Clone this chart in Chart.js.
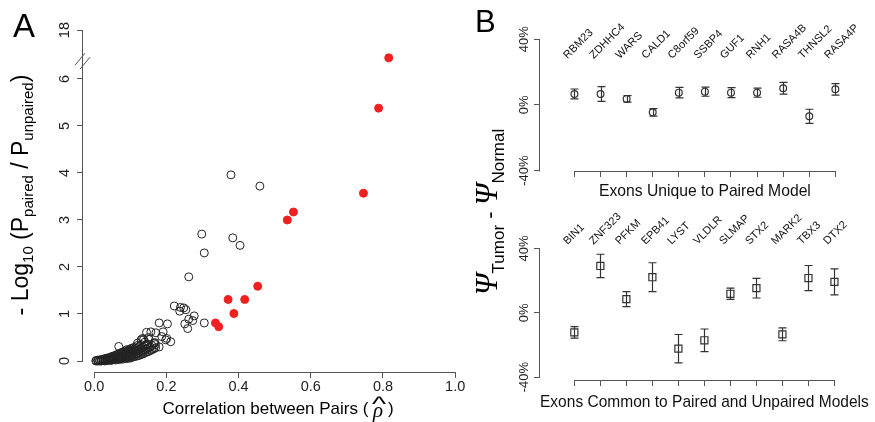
<!DOCTYPE html>
<html><head><meta charset="utf-8">
<script src="https://cdn.jsdelivr.net/npm/chart.js@4.4.0/dist/chart.umd.min.js"></script>
<style>
html,body{margin:0;padding:0;background:#fff;}
#wrap{position:relative;width:875px;height:422px;overflow:hidden;font-family:"Liberation Sans",Arial,sans-serif;color:#000;background:#fff;}
canvas{position:absolute;}
.lbl{position:absolute;white-space:nowrap;line-height:1;}
.ctr{position:absolute;white-space:nowrap;line-height:1;transform:translate(-50%,-50%);}
.rot{position:absolute;white-space:nowrap;line-height:1;transform:translate(-50%,-50%) rotate(-90deg);}
#tA sub{font-size:15px;vertical-align:-0.3em;}
#tB sub{font-size:17px;vertical-align:-0.45em;}
.psi{font-family:"Liberation Serif","DejaVu Serif",serif;font-style:italic;font-size:31px;}
.rho{position:relative;display:inline-block;font-family:"Liberation Serif","DejaVu Serif",serif;font-style:italic;font-size:21px;vertical-align:-0.12em;}
.hat{position:absolute;left:1px;top:-6px;font-family:"Liberation Sans",Arial,sans-serif;font-style:normal;font-size:20px;transform:scaleX(1.5);}
</style></head><body>
<div id="wrap">
  <canvas id="cA" style="left:0;top:0" width="470" height="422"></canvas>
  <canvas id="cB1" style="left:470px;top:0" width="405" height="210"></canvas>
  <canvas id="cB2" style="left:470px;top:210px" width="405" height="212"></canvas>
  <div class="lbl" style="left:13px;top:9px;font-size:33px">A</div>
  <div class="lbl" style="left:475px;top:6px;font-size:31px">B</div>
  <div class="rot" id="tA" style="left:22px;top:195px;font-size:23px">- Log<sub>10</sub> (P<sub>paired</sub> / P<sub>unpaired</sub>)</div>
  <div class="ctr" style="left:278px;top:410px;font-size:17px">Correlation between Pairs ( <span class="rho">ρ<span class="hat">^</span></span> )</div>
  <div class="rot" id="tB" style="left:489px;top:212px;font-size:22px"><span class="psi">Ψ</span><sub>Tumor</sub> - <span class="psi">Ψ</span><sub>Normal</sub></div>
</div>
<script>
// ---------------- Panel A data ----------------
const rhoTicks = [0, 0.2, 0.4, 0.6, 0.8, 1.0];
const logTicks = [0, 1, 2, 3, 4, 5, 6];
const logTickLabels = ['0', '1', '2', '3', '4', '5', '6', '18'];
const logBreakTick = 7.04;   // where the "18" tick sits above the axis break
// significant exons (red, filled)
const redPoints = [
  [0.816, 6.45], [0.788, 5.38], [0.746, 3.57], [0.535, 3.00], [0.552, 3.17],
  [0.371, 1.31], [0.417, 1.31], [0.387, 1.01], [0.453, 1.59], [0.336, 0.81], [0.345, 0.73]
];
// other exons (open circles)
const openPoints = [
  [0.379, 3.96], [0.459, 3.72], [0.298, 2.70], [0.384, 2.62], [0.404, 2.46], [0.305, 2.30], [0.262, 1.79],
  [0.222, 1.17], [0.239, 1.14], [0.248, 1.13], [0.254, 1.09], [0.237, 1.06], [0.277, 0.96], [0.262, 0.89],
  [0.273, 0.86], [0.251, 0.79], [0.259, 0.69], [0.305, 0.81], [0.180, 0.81], [0.203, 0.79], [0.068, 0.31],
  [0.145, 0.61], [0.157, 0.62], [0.191, 0.62], [0.171, 0.60], [0.187, 0.52], [0.201, 0.48], [0.212, 0.41],
  [0.198, 0.45], [0.150, 0.50], [0.134, 0.48], [0.137, 0.46], [0.152, 0.46], [0.148, 0.36], [0.168, 0.39],
  [0.166, 0.38], [0.120, 0.38], [0.130, 0.45],
  [0.005, 0.00], [0.005, 0.01], [0.01, 0.00], [0.01, 0.01], [0.01, 0.02], [0.015, 0.00], [0.015, 0.02],
  [0.02, 0.00], [0.02, 0.01], [0.02, 0.03], [0.025, 0.01], [0.025, 0.02], [0.025, 0.04], [0.03, 0.00],
  [0.03, 0.02], [0.03, 0.04], [0.03, 0.05], [0.035, 0.01], [0.035, 0.03], [0.035, 0.06], [0.04, 0.02],
  [0.04, 0.04], [0.04, 0.07], [0.045, 0.01], [0.045, 0.03], [0.045, 0.05], [0.045, 0.08], [0.05, 0.02],
  [0.05, 0.05], [0.05, 0.08], [0.05, 0.10], [0.055, 0.03], [0.055, 0.06], [0.055, 0.09], [0.06, 0.02],
  [0.06, 0.05], [0.06, 0.08], [0.06, 0.11], [0.06, 0.13], [0.065, 0.04], [0.065, 0.07], [0.065, 0.10],
  [0.065, 0.14], [0.07, 0.03], [0.07, 0.06], [0.07, 0.09], [0.07, 0.12], [0.07, 0.16], [0.075, 0.05],
  [0.075, 0.08], [0.075, 0.11], [0.075, 0.15], [0.075, 0.18], [0.08, 0.04], [0.08, 0.07], [0.08, 0.10],
  [0.08, 0.14], [0.08, 0.19], [0.085, 0.06], [0.085, 0.09], [0.085, 0.13], [0.085, 0.17], [0.085, 0.21],
  [0.09, 0.05], [0.09, 0.08], [0.09, 0.12], [0.09, 0.16], [0.09, 0.20], [0.09, 0.24], [0.095, 0.07],
  [0.095, 0.11], [0.095, 0.15], [0.095, 0.19], [0.095, 0.23], [0.10, 0.06], [0.10, 0.10], [0.10, 0.14],
  [0.10, 0.18], [0.10, 0.22], [0.10, 0.26], [0.105, 0.08], [0.105, 0.12], [0.105, 0.17], [0.105, 0.21],
  [0.105, 0.27], [0.11, 0.09], [0.11, 0.13], [0.11, 0.18], [0.11, 0.24], [0.11, 0.29], [0.115, 0.10],
  [0.115, 0.15], [0.115, 0.20], [0.115, 0.26], [0.12, 0.11], [0.12, 0.16], [0.12, 0.22], [0.12, 0.28],
  [0.12, 0.33], [0.125, 0.12], [0.125, 0.18], [0.125, 0.25], [0.125, 0.31], [0.13, 0.14], [0.13, 0.20],
  [0.13, 0.27], [0.13, 0.35], [0.135, 0.15], [0.135, 0.22], [0.135, 0.29], [0.14, 0.17], [0.14, 0.24],
  [0.14, 0.32], [0.14, 0.40], [0.145, 0.19], [0.145, 0.26], [0.145, 0.34], [0.15, 0.20], [0.15, 0.28],
  [0.155, 0.22], [0.155, 0.30], [0.16, 0.24], [0.16, 0.33], [0.165, 0.26], [0.17, 0.28], [0.17, 0.35],
  [0.18, 0.30]
];

// ---------------- Panel B data ----------------
const genesUnique = ['RBM23', 'ZDHHC4', 'WARS', 'CALD1', 'C8orf59', 'SSBP4', 'GUF1', 'RNH1', 'RASA4B', 'THNSL2', 'RASA4P'];
const deltaUnique = [6.7, 6.7, 3.7, -4.5, 7.5, 8.1, 7.5, 7.5, 10.2, -6.9, 9.5];
const errUnique   = [3.0, 4.5, 2.0, 2.3, 3.2, 2.8, 3.0, 2.8, 3.6, 4.3, 3.5];
const genesCommon = ['BIN1', 'ZNF323', 'PFKM', 'EPB41', 'LYST', 'VLDLR', 'SLMAP', 'STX2', 'MARK2', 'TBX3', 'DTX2'];
const deltaCommon = [-12.2, 29.1, 8.5, 22.1, -22.3, -17.1, 11.8, 15.3, -13.4, 21.6, 19.2];
const errCommon   = [3.6, 7.3, 4.7, 9.0, 8.8, 7.0, 3.5, 6.1, 4.0, 7.8, 8.1];
const psiTicks = [-40, 0, 40];

// ---------------- shared helpers ----------------
Chart.defaults.font.family = '"Liberation Sans", Arial, sans-serif';
Chart.defaults.color = '#111';
const AXIS_COLOR = '#555';

// R-style axis lines: from first to last tick only
const rAxes = {
  id: 'rAxes',
  afterDraw(chart) {
    const ctx = chart.ctx, ca = chart.chartArea;
    ctx.save();
    ctx.strokeStyle = AXIS_COLOR; ctx.lineWidth = 1;
    ['x', 'y'].forEach(id => {
      const s = chart.scales[id]; const t = s.ticks; if (!t.length) return;
      const a = s.getPixelForValue(t[0].value), b = s.getPixelForValue(t[t.length - 1].value);
      ctx.beginPath();
      if (id === 'x') { const yy = Math.round(ca.bottom) + 0.5; ctx.moveTo(Math.round(a) + 0.5, yy); ctx.lineTo(Math.round(b) + 0.5, yy); }
      else { const xx = Math.round(ca.left) - 0.5; ctx.moveTo(xx, Math.round(a) + 0.5); ctx.lineTo(xx, Math.round(b) + 0.5); }
      ctx.stroke();
    });
    ctx.restore();
  }
};

// axis break marks ("//") on the y axis of panel A
const breakMarks = {
  id: 'breakMarks',
  afterDraw(chart, args, opts) {
    const ctx = chart.ctx, ca = chart.chartArea, y = chart.scales.y;
    const cx = ca.left - 0.5, cy = y.getPixelForValue(opts.at);
    ctx.save();
    ctx.strokeStyle = AXIS_COLOR; ctx.lineWidth = 1;
    [[-2.5, -2], [2.5, 2]].forEach(([dx, dy]) => {
      ctx.beginPath();
      ctx.moveTo(cx + dx - 5, cy + dy + 6);
      ctx.lineTo(cx + dx + 5, cy + dy - 6);
      ctx.stroke();
    });
    ctx.restore();
  }
};

// error bars and rotated gene labels for panel B
const errorBars = {
  id: 'errorBars',
  afterDatasetsDraw(chart, args, o) {
    const ctx = chart.ctx, x = chart.scales.x, y = chart.scales.y;
    ctx.save();
    ctx.strokeStyle = '#333'; ctx.lineWidth = 1.2;
    o.values.forEach((v, i) => {
      const px = Math.round(x.getPixelForValue(i + 1)) + 0.5;
      const t = y.getPixelForValue(v + o.errors[i]), b = y.getPixelForValue(v - o.errors[i]);
      ctx.beginPath();
      ctx.moveTo(px, t); ctx.lineTo(px, b);
      ctx.moveTo(px - 4, t); ctx.lineTo(px + 4, t);
      ctx.moveTo(px - 4, b); ctx.lineTo(px + 4, b);
      ctx.stroke();
    });
    ctx.fillStyle = '#111';
    ctx.font = '11px "Liberation Sans", Arial, sans-serif';
    ctx.textAlign = 'left'; ctx.textBaseline = 'middle';
    o.labels.forEach((lab, i) => {
      ctx.save();
      ctx.translate(x.getPixelForValue(i + 1) + o.labelDx, y.getPixelForValue(o.labelY));
      ctx.rotate(-Math.PI / 4);
      ctx.fillText(lab, 0, 0);
      ctx.restore();
    });
    ctx.restore();
  }
};

// ---------------- Panel A chart ----------------
new Chart(document.getElementById('cA'), {
  type: 'scatter',
  data: {
    datasets: [
      { data: openPoints.map(p => ({ x: p[0], y: p[1] })), pointStyle: 'circle', pointRadius: 4,
        borderColor: '#222', borderWidth: 1, backgroundColor: 'rgba(0,0,0,0)', clip: false },
      { data: redPoints.map(p => ({ x: p[0], y: p[1] })), pointStyle: 'circle', pointRadius: 4,
        borderColor: '#f02020', borderWidth: 1, backgroundColor: '#f02020', clip: false }
    ]
  },
  options: {
    responsive: false, animation: false, events: [],
    layout: { padding: { top: 20, left: 0, right: 0, bottom: 0 } },
    plugins: { legend: { display: false }, tooltip: { enabled: false }, breakMarks: { at: 6.38 } },
    scales: {
      x: {
        type: 'linear', min: -0.031, max: 1.0273,
        afterBuildTicks: s => { s.ticks = rhoTicks.map(v => ({ value: v })); },
        afterFit: s => { s.height = 50; },
        border: { display: false },
        grid: { drawOnChartArea: false, drawTicks: true, tickLength: 6, color: AXIS_COLOR },
        ticks: { font: { size: 14.5 }, color: '#222', padding: 0, maxRotation: 0, callback: v => v.toFixed(1) }
      },
      y: {
        type: 'linear', min: -0.234, max: 7.255,
        afterBuildTicks: s => { s.ticks = logTicks.concat([logBreakTick]).map(v => ({ value: v })); },
        afterFit: s => { s.width = 83; },
        border: { display: false },
        grid: { drawOnChartArea: false, drawTicks: true, tickLength: 6, color: AXIS_COLOR },
        ticks: { font: { size: 14.5 }, color: '#222', minRotation: 90, maxRotation: 90, crossAlign: 'center', padding: 4,
                 callback: (v, i) => logTickLabels[i] }
      }
    }
  },
  plugins: [rAxes, breakMarks]
});

// ---------------- Panel B charts ----------------
function makeB(canvasId, genes, vals, errs, style, radius, yMin, yMax, padTop, xHeight, title, titlePadBottom, labelY) {
  return new Chart(document.getElementById(canvasId), {
    type: 'scatter',
    data: {
      datasets: [{ data: vals.map((v, i) => ({ x: i + 1, y: v })), pointStyle: style, pointRadius: radius,
        borderColor: '#333', borderWidth: 1.2, backgroundColor: 'rgba(0,0,0,0)', clip: false }]
    },
    options: {
      responsive: false, animation: false, events: [],
      layout: { padding: { top: padTop, left: 0, right: 0, bottom: 0 } },
      plugins: { legend: { display: false }, tooltip: { enabled: false },
                 errorBars: { values: vals, errors: errs, labels: genes, labelY: labelY, labelDx: -9 } },
      scales: {
        x: {
          type: 'linear', min: -0.32, max: 12.32,
          afterBuildTicks: s => { s.ticks = genes.map((g, i) => ({ value: i + 1 })); },
          afterFit: s => { s.height = xHeight; },
          border: { display: false },
          grid: { drawOnChartArea: false, drawTicks: true, tickLength: 6, color: AXIS_COLOR },
          ticks: { display: false },
          title: { display: true, text: title, font: { size: 15.7 }, color: '#111', padding: { top: 0, bottom: titlePadBottom } }
        },
        y: {
          type: 'linear', min: yMin, max: yMax,
          afterBuildTicks: s => { s.ticks = psiTicks.map(v => ({ value: v })); },
          afterFit: s => { s.width = 70; },
          border: { display: false },
          grid: { drawOnChartArea: false, drawTicks: true, tickLength: 6, color: AXIS_COLOR },
          ticks: { font: { size: 13 }, color: '#222', minRotation: 90, maxRotation: 90, crossAlign: 'center', padding: -6,
                   callback: v => v + '%' }
        }
      }
    },
    plugins: [rAxes, errorBars]
  });
}
makeB('cB1', genesUnique, deltaUnique, errUnique, 'circle', 3.4, -40.2, 57.8, 10, 39,
      'Exons Unique to Paired Model', 8.9, 29.2);
makeB('cB2', genesCommon, deltaCommon, errCommon, 'rect', 5, -41.8, 60.05, 5, 42,
      'Exons Common to Paired and Unpaired Models', 9.6, 43.4);
</script>
</body></html>
